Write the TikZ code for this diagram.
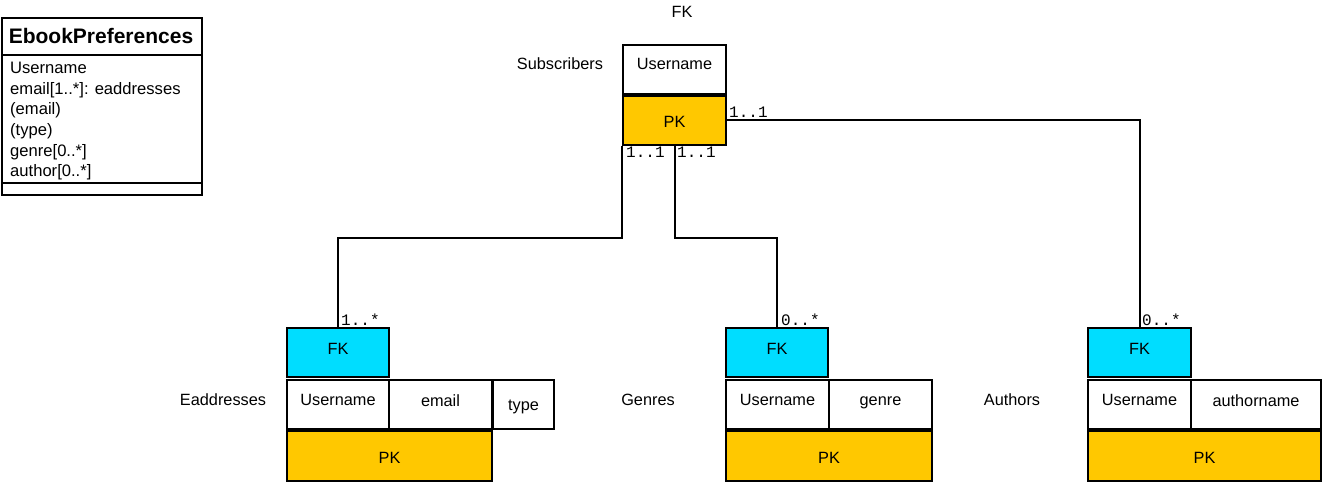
\documentclass[tikz,border=0pt]{standalone}
\usepackage{fontspec}
\setmainfont{Liberation Sans}
\newfontfamily\monofnt{Liberation Mono}
\definecolor{pkcol}{HTML}{FFC800}
\definecolor{fkcol}{HTML}{00DDFF}
\newcommand{\lowertxt}[1]{\raisebox{0pt}[\dimexpr\height+4pt\relax]{#1}}
\begin{document}
\begin{tikzpicture}[x=1pt,y=-1pt,
  cell/.style={draw=black,line width=2pt,anchor=north west,inner sep=0pt,align=center,
    font=\fontsize{16.3}{19}\selectfont},
  pkcell/.style={cell,fill=pkcol},
  fkcell/.style={cell,fill=fkcol},
  lbl/.style={inner sep=0pt,font=\fontsize{16.3}{19}\selectfont},
  mult/.style={inner sep=1pt,font=\monofnt\fontsize{16}{17}\selectfont},
  conn/.style={draw=black,line width=2pt}]
\useasboundingbox[fill=white] (0,0) rectangle (1322,483);

% EbookPreferences class
\node[draw,line width=2pt,anchor=north west,minimum width=200,minimum height=177,inner sep=0pt] (cls) at (1,17) {};
\draw[line width=2pt] (cls.west |- 0,55) -- (cls.east |- 0,55);
\draw[line width=2pt] (cls.west |- 0,183) -- (cls.east |- 0,183);
\node[inner sep=0pt,font=\bfseries\fontsize{21}{24}\selectfont] (clsT) at (101,36) {EbookPreferences};
\node[anchor=north west,inner sep=0pt,align=left,font=\fontsize{16.6}{20.6}\selectfont] (clsA) at (10,62)
 {Username\\email[1..*]: eaddresses\\(email)\\(type)\\genre[0..*]\\author[0..*]};

% Subscribers
\node[lbl] (fkTop) at (682,12) {FK};
\node[lbl] (subL) at (560,64) {Subscribers};
\node[cell,minimum width=103,minimum height=49] (sU) at (622,44) {\raisebox{11pt}{Username}};
\node[pkcell,minimum width=103,minimum height=49] (sPK) at (622,94.5) {\lowertxt{PK}};

% Eaddresses
\node[lbl] (eL) at (223,400) {Eaddresses};
\node[fkcell,minimum width=102,minimum height=49] (eFK) at (286,327) {\raisebox{7pt}{FK}};
\node[cell,minimum width=102,minimum height=49] (eU) at (286,379) {\raisebox{9pt}{Username}};
\node[cell,minimum width=103,minimum height=49] (eE) at (388,379) {\raisebox{7pt}{email}};
\node[cell,minimum width=61,minimum height=49] (eT) at (492,379) {\lowertxt{type}};
\node[pkcell,minimum width=205,minimum height=50] (ePK) at (286,430) {\lowertxt{PK}};

% Genres
\node[lbl] (gL) at (648,400) {Genres};
\node[fkcell,minimum width=102,minimum height=49] (gFK) at (725,327) {\raisebox{7pt}{FK}};
\node[cell,minimum width=103,minimum height=49] (gU) at (725,379) {\raisebox{9pt}{Username}};
\node[cell,minimum width=103,minimum height=49] (gG) at (828,379) {\raisebox{7pt}{genre}};
\node[pkcell,minimum width=206,minimum height=50] (gPK) at (725,430) {\lowertxt{PK}};

% Authors
\node[lbl] (aL) at (1012,400) {Authors};
\node[fkcell,minimum width=103,minimum height=49] (aFK) at (1087,327) {\raisebox{7pt}{FK}};
\node[cell,minimum width=103,minimum height=49] (aU) at (1087,379) {\raisebox{9pt}{Username}};
\node[cell,minimum width=130,minimum height=49] (aN) at (1190,379) {\raisebox{7pt}{authorname}};
\node[pkcell,minimum width=233,minimum height=50] (aPK) at (1087,430) {\lowertxt{PK}};

% connectors
\draw[conn] (sPK.east) -| (aFK.north);
\draw[conn] (sPK.south west) -- ++(0,92) -| (eFK.north);
\draw[conn] (sPK.south) -- ++(0,92) -| (gFK.north);

% multiplicities
\node[mult,anchor=south west] (m1) at (728,119) {1..1};
\node[mult,anchor=north west] (m2) at (625,146) {1..1};
\node[mult,anchor=north west] (m3) at (676,146) {1..1};
\node[mult,anchor=south west] (m4) at (340,327) {1..*};
\node[mult,anchor=south west] (m5) at (780,327) {0..*};
\node[mult,anchor=south west] (m6) at (1141,327) {0..*};
\end{tikzpicture}
\end{document}
